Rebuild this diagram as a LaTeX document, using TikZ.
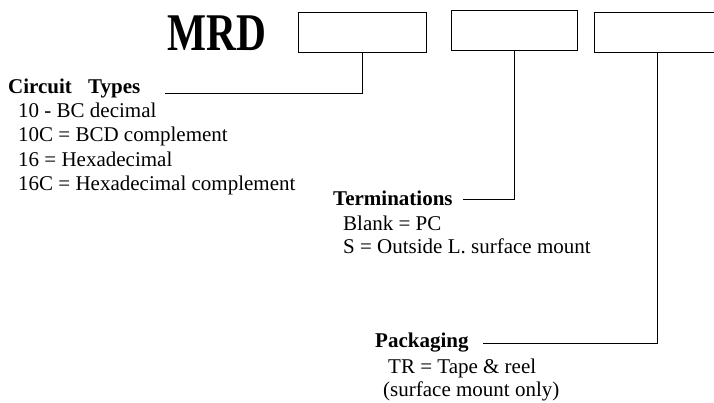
\documentclass[tikz,border=0pt]{standalone}
\usepackage{fontspec}
\setmainfont{Liberation Serif}
\begin{document}
\begin{tikzpicture}[x=1pt,y=-1pt,
  lbl/.style={anchor=base west, inner sep=0pt, font=\fontsize{21}{21}\selectfont},
  hd/.style={anchor=base west, inner sep=0pt, font=\fontsize{21}{21}\selectfont\bfseries},
  codebox/.style={draw, line width=1pt, inner sep=0pt, anchor=north west, minimum width=126pt, minimum height=40pt},
  lead/.style={line width=1pt}]
\useasboundingbox (0,0) rectangle (714,402);
\node[anchor=base west, inner sep=0pt] (mrd) at (167,50) {\scalebox{0.78}[1]{\fontsize{53}{53}\selectfont\bfseries MRD}};
\node[codebox, minimum width=128pt] (b1) at (298,12) {};
\node[codebox] (b2) at (451,10) {};
\node[codebox] (b3) at (594,12) {};
% Circuit types
\node[hd] (ct) at (8,93) {Circuit\hspace{11pt} Types};
\node[lbl] (ct1) at (18,117) {10 - BC decimal};
\node[lbl] (ct2) at (18,141) {10C = BCD complement};
\node[lbl] (ct3) at (18,166) {16 = Hexadecimal};
\node[lbl] (ct4) at (18,190) {16C = Hexadecimal complement};
\coordinate (c1) at (165,93);
\draw[lead] (b1.south) |- (c1);
% Terminations
\node[hd] (tm) at (333,205) {Terminations};
\node[lbl] (tm1) at (343,230) {Blank = PC};
\node[lbl] (tm2) at (343,253) {S = Outside L. surface mount};
\coordinate (c2) at (463,199);
\draw[lead] (b2.south) |- (c2);
% Packaging
\node[hd] (pk) at (375,347) {Packaging};
\node[lbl] (pk1) at (388,373) {TR = Tape \& reel};
\node[lbl] (pk2) at (383,396) {(surface mount only)};
\coordinate (c3) at (483,343);
\draw[lead] (b3.south) |- (c3);
\end{tikzpicture}
\end{document}
